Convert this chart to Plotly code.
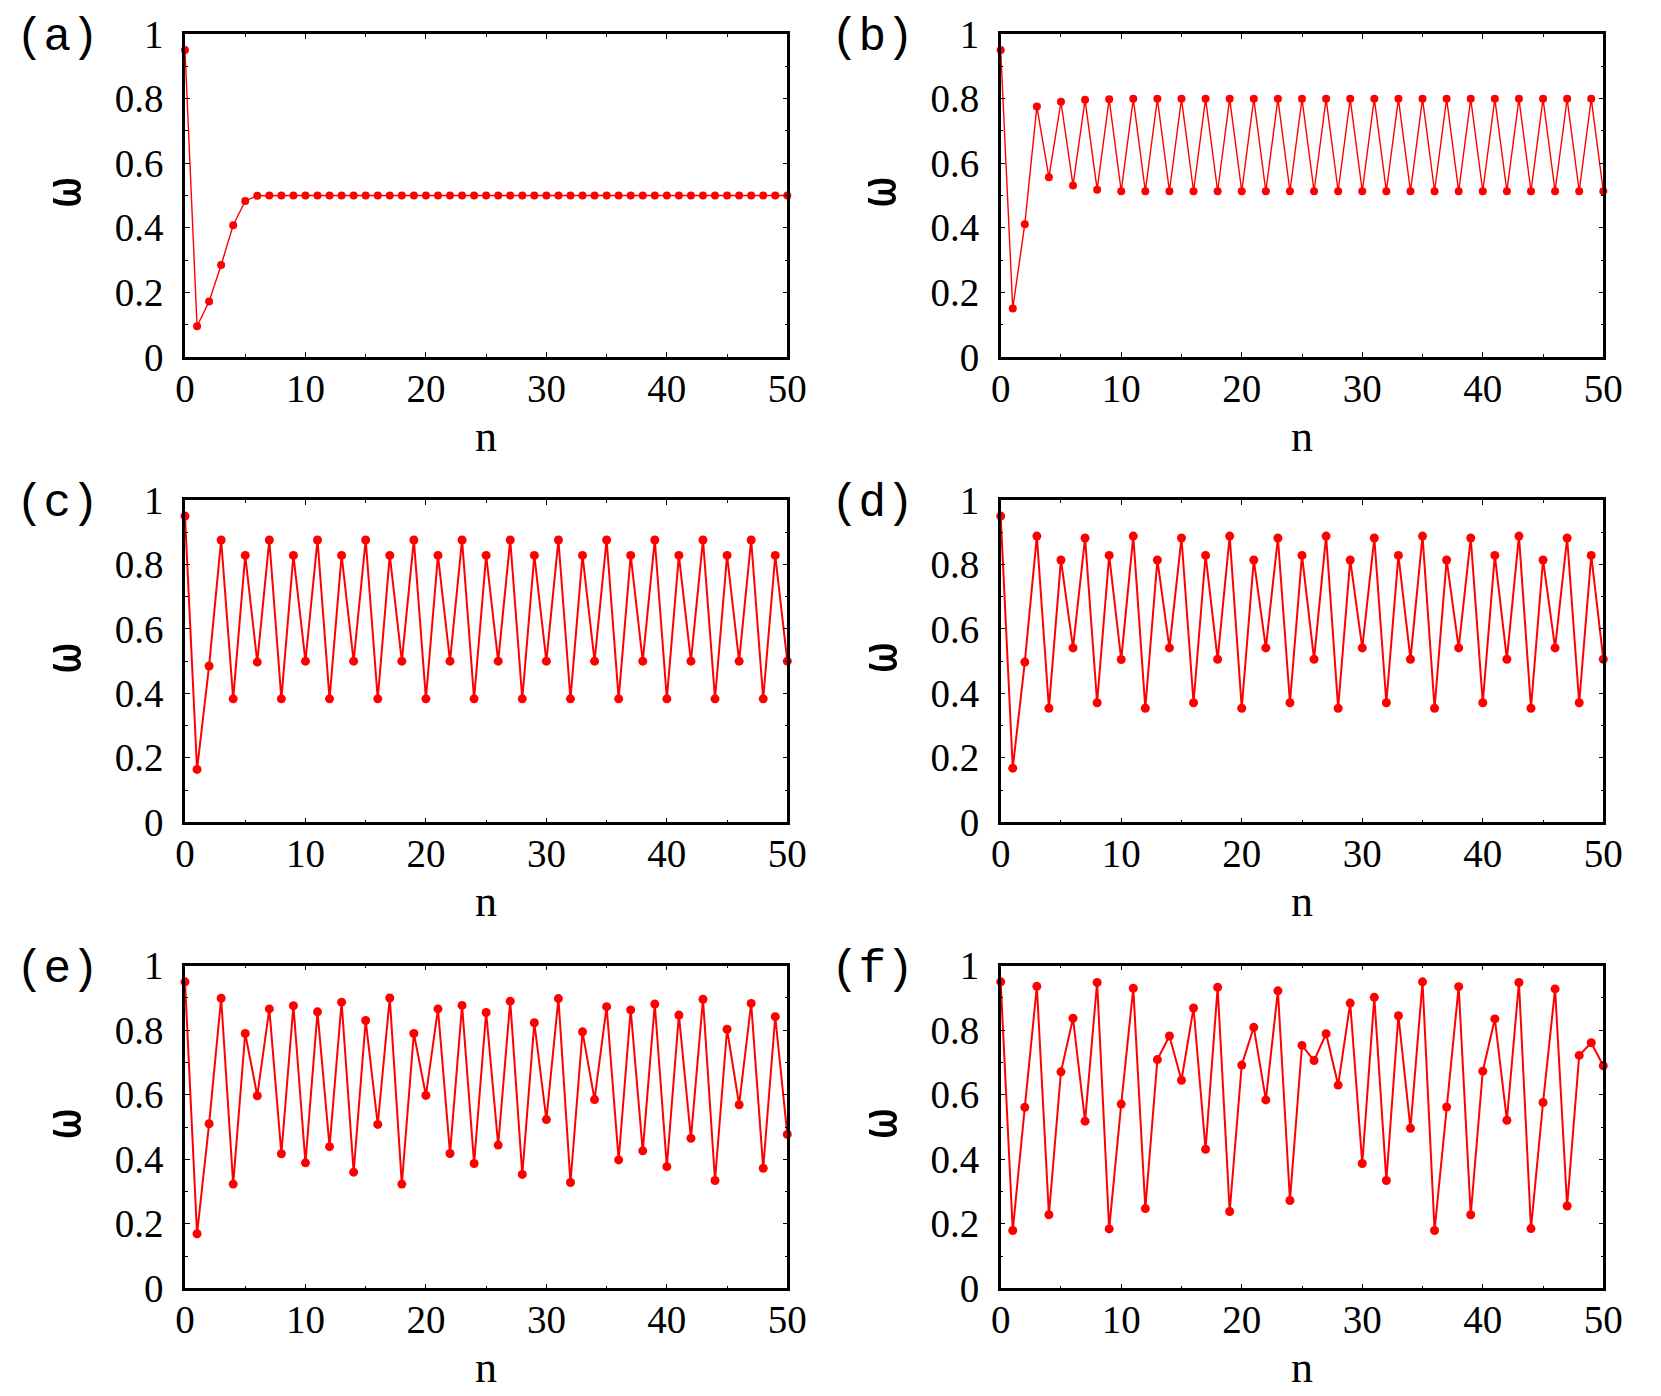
import plotly.graph_objects as go

# iteration index
n = list(range(51))

# values
omega_a = [0.950, 0.095, 0.172, 0.285, 0.408, 0.483, 0.499, 0.500, 0.500, 0.500,
           0.500, 0.500, 0.500, 0.500, 0.500, 0.500, 0.500, 0.500, 0.500, 0.500,
           0.500, 0.500, 0.500, 0.500, 0.500, 0.500, 0.500, 0.500, 0.500, 0.500,
           0.500, 0.500, 0.500, 0.500, 0.500, 0.500, 0.500, 0.500, 0.500, 0.500,
           0.500, 0.500, 0.500, 0.500, 0.500, 0.500, 0.500, 0.500, 0.500, 0.500,
           0.500]

omega_b = [0.950, 0.150, 0.411, 0.775, 0.556, 0.790, 0.531, 0.796, 0.518, 0.798,
           0.513, 0.799, 0.513, 0.799, 0.513, 0.799, 0.513, 0.799, 0.513, 0.799,
           0.513, 0.799, 0.513, 0.799, 0.513, 0.799, 0.513, 0.799, 0.513, 0.799,
           0.513, 0.799, 0.513, 0.799, 0.513, 0.799, 0.513, 0.799, 0.513, 0.799,
           0.513, 0.799, 0.513, 0.799, 0.513, 0.799, 0.513, 0.799, 0.513, 0.799,
           0.513]

omega_c = [0.950, 0.164, 0.485, 0.876, 0.383, 0.828, 0.497, 0.876, 0.383, 0.828,
           0.500, 0.876, 0.383, 0.828, 0.500, 0.876, 0.383, 0.828, 0.500, 0.876,
           0.383, 0.828, 0.500, 0.876, 0.383, 0.828, 0.500, 0.876, 0.383, 0.828,
           0.500, 0.876, 0.383, 0.828, 0.500, 0.876, 0.383, 0.828, 0.500, 0.876,
           0.383, 0.828, 0.500, 0.876, 0.383, 0.828, 0.500, 0.876, 0.383, 0.828,
           0.500]

omega_d = [0.950, 0.168, 0.497, 0.888, 0.354, 0.814, 0.541, 0.882, 0.371, 0.828,
           0.505, 0.888, 0.354, 0.814, 0.541, 0.882, 0.371, 0.828, 0.506, 0.888,
           0.354, 0.814, 0.541, 0.882, 0.371, 0.828, 0.506, 0.888, 0.354, 0.814,
           0.541, 0.882, 0.371, 0.828, 0.506, 0.888, 0.354, 0.814, 0.541, 0.882,
           0.371, 0.828, 0.506, 0.888, 0.354, 0.814, 0.541, 0.882, 0.371, 0.828,
           0.506]

omega_e = [0.950, 0.169, 0.510, 0.899, 0.323, 0.790, 0.597, 0.866, 0.417, 0.876,
           0.389, 0.857, 0.439, 0.887, 0.360, 0.830, 0.508, 0.900, 0.323, 0.790,
           0.598, 0.866, 0.418, 0.877, 0.387, 0.855, 0.444, 0.890, 0.353, 0.823,
           0.523, 0.898, 0.328, 0.795, 0.585, 0.873, 0.398, 0.863, 0.426, 0.881,
           0.377, 0.847, 0.465, 0.896, 0.334, 0.803, 0.569, 0.883, 0.372, 0.842,
           0.477]

omega_f = [0.950, 0.179, 0.561, 0.936, 0.228, 0.671, 0.837, 0.518, 0.948, 0.184,
           0.571, 0.930, 0.247, 0.709, 0.782, 0.645, 0.869, 0.431, 0.933, 0.238,
           0.692, 0.809, 0.584, 0.922, 0.272, 0.753, 0.706, 0.789, 0.630, 0.884,
           0.387, 0.902, 0.334, 0.845, 0.496, 0.950, 0.179, 0.562, 0.935, 0.228,
           0.673, 0.835, 0.521, 0.948, 0.185, 0.576, 0.928, 0.255, 0.722, 0.761,
           0.690]

panel_labels = ["(a)", "(b)", "(c)", "(d)", "(e)", "(f)"]
series = [omega_a, omega_b, omega_c, omega_d, omega_e, omega_f]
x_ticks = [0, 10, 20, 30, 40, 50]
y_ticks = [0, 0.2, 0.4, 0.6, 0.8, 1]
y_ticktext = ["0", "0.2", "0.4", "0.6", "0.8", "1"]

# page body has an 8px margin, so the figure is drawn 8px in from the window corner
PAD = 8
W, H = 1661 - 2 * PAD, 1396 - PAD
# plot frames in window pixels (left, right) and (top, bottom)
cols_px = [(185, 787.3), (1000.7, 1603.3)]
rows_px = [(33.9, 357.0), (500.0, 822.3), (965.7, 1288.3)]

TICK_FONT = dict(family="Liberation Serif", size=39, color="black")

fig = go.Figure()
annotations = []

for i, (vals, lab) in enumerate(zip(series, panel_labels)):
    r, c = divmod(i, 2)
    k = "" if i == 0 else str(i + 1)
    x0, x1 = cols_px[c][0] - PAD, cols_px[c][1] - PAD
    t, b = rows_px[r][0] - PAD, rows_px[r][1] - PAD
    xd = [x0 / W, x1 / W]
    yd = [1 - b / H, 1 - t / H]
    lw, ms = (1.4, 8) if r == 0 else (2.0, 9)

    fig.add_trace(go.Scatter(
        x=n, y=vals, mode="lines+markers",
        line=dict(color="#ff0000", width=lw),
        marker=dict(color="#ff0000", size=ms),
        xaxis="x" + k, yaxis="y" + k,
        showlegend=False, cliponaxis=False
    ))

    fig.update_layout(**{
        "xaxis" + k: dict(
            domain=xd, anchor="y" + k, range=[0, 50], automargin=False,
            tickvals=x_ticks, ticks="inside", ticklen=5, tickwidth=1, tickcolor="black",
            minor=dict(ticks="inside", ticklen=3, dtick=5, tick0=0, tickcolor="black"),
            showline=True, linewidth=2.5, linecolor="black", mirror="allticks",
            showgrid=False, zeroline=False, tickfont=TICK_FONT,
            ticklabelstandoff=-5,
        ),
        "yaxis" + k: dict(
            domain=yd, anchor="x" + k, range=[0, 1], automargin=False,
            tickvals=y_ticks, ticktext=y_ticktext,
            ticks="inside", ticklen=5, tickwidth=1, tickcolor="black",
            minor=dict(ticks="inside", ticklen=3, dtick=0.1, tick0=0, tickcolor="black"),
            showline=True, linewidth=2.5, linecolor="black", mirror="allticks",
            showgrid=False, zeroline=False, tickfont=TICK_FONT,
            ticklabelstandoff=11,
        ),
    })

    # axis titles and panel label
    annotations.append(dict(
        text="n", xref="paper", yref="paper", x=(xd[0] + xd[1]) / 2, y=yd[0],
        yshift=-79, showarrow=False, xanchor="center", yanchor="middle",
        font=dict(family="Liberation Serif", size=44, color="black")))
    annotations.append(dict(
        text="ω", xref="paper", yref="paper", x=xd[0], y=(yd[0] + yd[1]) / 2,
        xshift=-122, yshift=3, showarrow=False, xanchor="center", yanchor="middle",
        textangle=-90,
        font=dict(family="DejaVu Sans Mono", size=50, color="black")))
    annotations.append(dict(
        text=lab, xref="paper", yref="paper", x=xd[0], y=yd[1],
        xshift=-128, yshift=-4, showarrow=False, xanchor="center", yanchor="middle",
        font=dict(family="Liberation Mono", size=46, color="black")))

fig.update_layout(
    template="none",
    width=W, height=H,
    margin=dict(l=0, r=0, t=0, b=0, autoexpand=False),
    paper_bgcolor="white", plot_bgcolor="white",
    annotations=annotations,
)

fig.write_html("out.html")
